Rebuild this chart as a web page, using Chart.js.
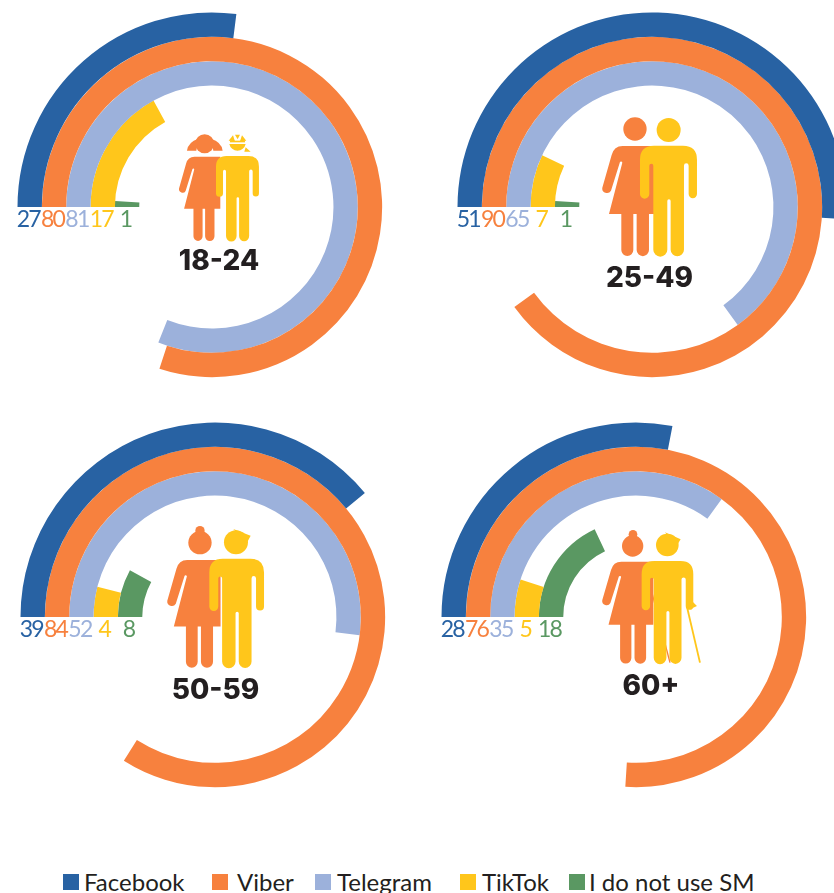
<!DOCTYPE html>
<html><head><meta charset="utf-8">
<script src="https://cdn.jsdelivr.net/npm/chart.js@4"></script>
<style>
html,body{margin:0;padding:0;background:#fff;width:834px;height:893px;overflow:hidden}
#stage{position:relative;width:834px;height:893px;overflow:hidden}
canvas{position:absolute}
svg{position:absolute;left:0;top:0}
.lg{position:absolute;top:866px;height:27px;font:400 24px Lato,sans-serif;color:#231F20;line-height:31px;white-space:nowrap}
.sw{position:absolute;top:874px;width:16px;height:16px}
</style></head><body>
<div id="stage">
<svg width="834" height="893" viewBox="0 0 834 893" id="icons" style="z-index:2">
<defs>
<path id="w" d="M548 138H650V342H627V450A18.5 18.5 0 0 1 590 450V342H580V450A18 18 0 0 1 544 450V342H507L547 188A4 4 0 0 0 540 186L513 272A14 14 0 0 1 487 263L515 165Q522 138 548 138Z"/>
<path id="m" d="M642 137H729Q771 137 771 179V282A12.5 12.5 0 0 1 746 282V197A7 7 0 0 0 732 197V449A19.5 19.5 0 0 1 692 449V303A5 5 0 0 0 682 303V449A21 21 0 0 1 640 449V197A6 6 0 0 0 628 197V282A14 14 0 0 1 600 282V179Q600 137 642 137Z"/>
</defs>
<!-- 18-24 -->
<g transform="translate(0 120) scale(.3333)">
<g fill="#F7813E"><circle cx="614" cy="71" r="28.5"/><path d="M561 92Q564 66 595 56L589 92Z"/><path d="M668 92Q665 66 633 56L640 92Z"/>
<use href="#w" transform="translate(167 4.3) scale(.76 .766)"/></g>
<g fill="#FFC61B"><use href="#m" transform="translate(195.6 2.5) scale(.754 .77)"/>
<path d="M688 72A25 25 0 0 0 737 72Z"/><path d="M686 62L699 46L705 64Z"/><path d="M705 44H720L713 58Z"/><path d="M739 62L726 46L720 64Z"/><path d="M737 82L752 95H733Z"/><rect x="690" y="62" width="45" height="5"/></g></g>
<!-- 25-49 -->
<g transform="translate(440 100) scale(.3333)">
<g fill="#F7813E"><circle cx="585" cy="87" r="35"/><use href="#w"/></g>
<g fill="#FFC61B"><circle cx="686" cy="90" r="36"/><use href="#m"/></g></g>
<!-- 50-59 -->
<g transform="translate(0 510) scale(.3333)">
<g fill="#F7813E"><circle cx="600" cy="98" r="35"/><circle cx="600" cy="62" r="14"/><use href="#w" transform="translate(24.7 14.9) scale(.98 .979)"/></g>
<g fill="#FFC61B"><circle cx="708" cy="97" r="36"/><path d="M700 57L752 77L740 100Z"/><use href="#m" transform="translate(52 10.6) scale(.96 .988)"/></g></g>
<!-- 60+ -->
<g transform="translate(430 510) scale(.3333)">
<g fill="#F7813E"><circle cx="608" cy="108" r="32"/><circle cx="609" cy="73" r="13"/><use href="#w" transform="translate(59 27) scale(.94 .927)"/></g>
<path d="M660 225L720 458" stroke="#F7813E" stroke-width="4" fill="none"/>
<g fill="#FFC61B"><circle cx="712" cy="105" r="34"/><path d="M705 67L752 88L738 110Z"/><use href="#m" transform="translate(91.4 25.6) scale(.906 .93)"/>
<path d="M772 295L810 458" stroke="#FFC61B" stroke-width="5.5" fill="none"/><path d="M785 272L801 288L780 298Z"/></g></g>
</svg>
</div>
<script>
const ageGroups = ["18-24", "25-49", "50-59", "60+"];
const seriesNames = ["Facebook", "Viber", "Telegram", "TikTok", "I do not use SM"];
const facebook = [27, 51, 39, 28];
const viber    = [80, 90, 84, 76];
const telegram = [81, 65, 52, 35];
const tiktok   = [17, 7, 4, 5];
const noSM     = [1, 1, 8, 18];

const colors = ["#2862A3", "#F7813E", "#9CB1DB", "#FFC61B", "#5A9862"];
const panels = [
  {left: 12,  top: 7,   title: [219, 270]},
  {left: 452, top: 7,   title: [649.5, 287]},
  {left: 15,  top: 417, title: [215.5, 699]},
  {left: 436, top: 417, title: [651, 695]}
];
const series = [facebook, viber, telegram, tiktok, noSM];
const stage = document.getElementById("stage");

const labelPlugin = {
  id: "ringLabels",
  afterDatasetsDraw(chart, args, opts) {
    const ctx = chart.ctx;
    ctx.save();
    ctx.textAlign = "center";
    ctx.textBaseline = "alphabetic";
    ctx.font = "400 23px Lato, sans-serif";
    ctx.letterSpacing = "-1.8px";
    chart.data.datasets.forEach((ds, i) => {
      const arc = chart.getDatasetMeta(i).data[0];
      ctx.fillStyle = colors[i];
      ctx.fillText(String(ds.data[0]), arc.x - (arc.outerRadius + arc.innerRadius) / 2 - 1.5, arc.y + 19.5);
    });
    ctx.letterSpacing = "0px";
    ctx.font = "800 28px Inter, sans-serif";
    ctx.fillStyle = "#231F20";
    ctx.fillText(opts.text, opts.x, opts.y);
    ctx.restore();
  }
};

panels.forEach((p, k) => {
  const c = document.createElement("canvas");
  c.width = 400; c.height = 400;
  c.style.cssText = `left:${p.left}px;top:${p.top}px;width:400px;height:400px`;
  stage.appendChild(c);
  new Chart(c, {
    type: "doughnut",
    plugins: [labelPlugin],
    data: {
      labels: ["share", "rest"],
      datasets: series.map((s, i) => ({
        label: seriesNames[i],
        data: [s[k], 100 - s[k]],
        backgroundColor: [colors[i], "rgba(0,0,0,0)"],
        borderWidth: 0
      }))
    },
    options: {
      responsive: false, animation: false, events: [],
      rotation: -90, circumference: 360,
      radius: 194.5, cutout: 74.8,
      layout: {padding: 0},
      plugins: {
        legend: {display: false}, tooltip: {enabled: false},
        ringLabels: {text: ageGroups[k], x: p.title[0] - p.left, y: p.title[1] - p.top}
      }
    }
  });
});

const legendX = [[63, 84], [212, 237], [315, 337], [460, 482], [569, 589]];
seriesNames.forEach((n, i) => {
  const s = document.createElement("div");
  s.className = "sw"; s.style.left = legendX[i][0] + "px"; s.style.background = colors[i];
  const t = document.createElement("div");
  t.className = "lg"; t.style.left = legendX[i][1] + "px"; t.textContent = n;
  stage.append(s, t);
});
</script>
</body></html>
